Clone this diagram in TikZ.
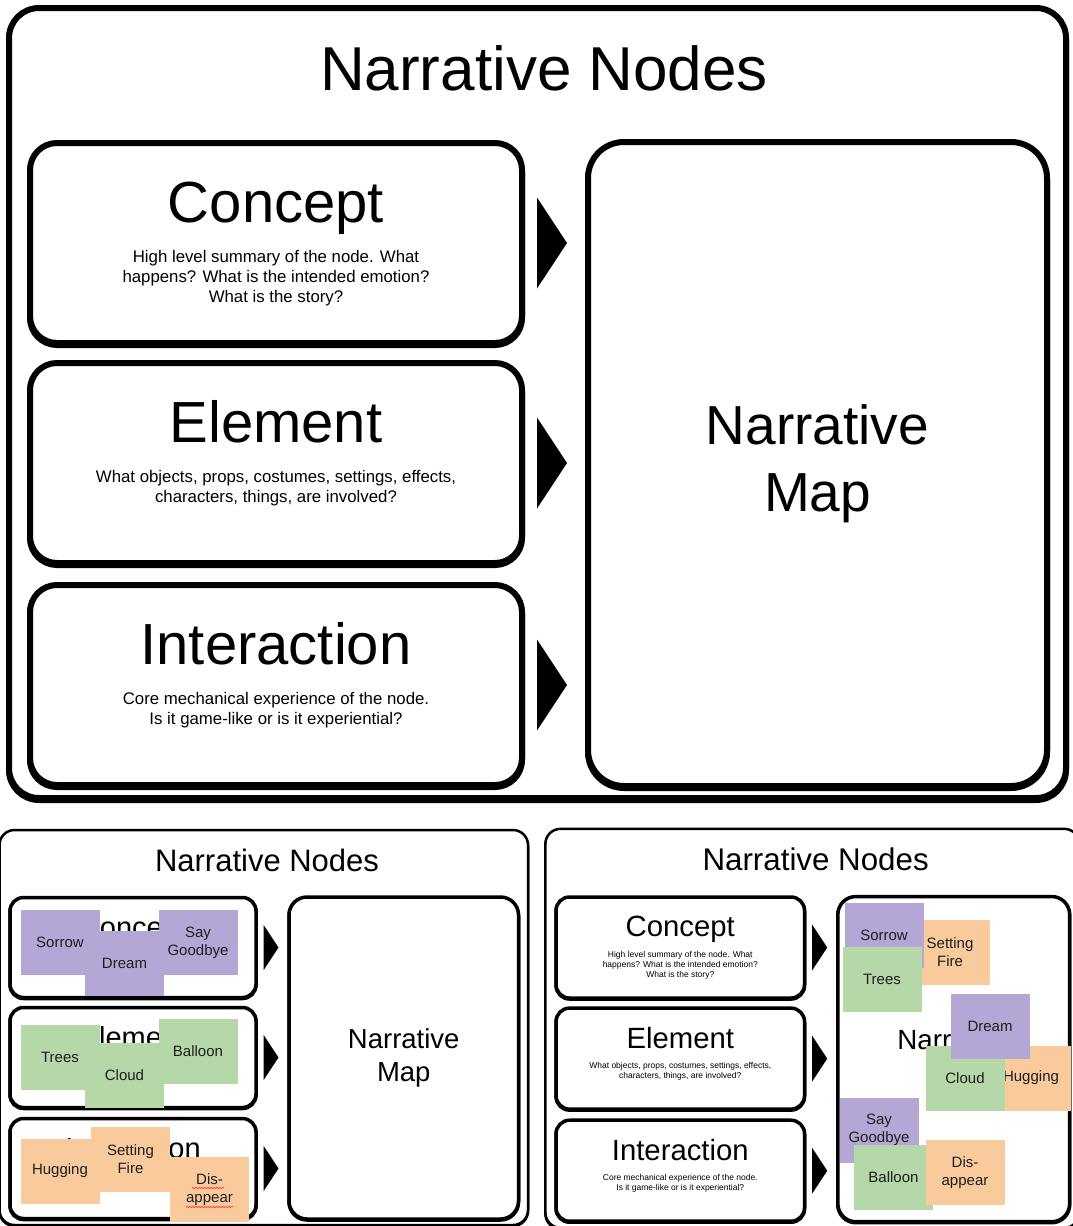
\documentclass[tikz,border=0pt]{standalone}
\usepackage{fontspec}
\setmainfont{Liberation Sans}
\usetikzlibrary{decorations.pathmorphing}

\definecolor{notepurple}{HTML}{B4A7D6}
\definecolor{notegreen}{HTML}{B6D7A8}
\definecolor{noteorange}{HTML}{F9CB9C}
\definecolor{notetext}{HTML}{1E1E1E}

\tikzset{
  frame/.style={draw=black, fill=white, inner sep=0pt, outer sep=0pt},
  shadowed/.style={preaction={draw=black, transform canvas={yshift=-#1}}},
  cardbox/.style={frame, minimum width=492, minimum height=200},
  heading/.style={font=\fontsize{58}{70}\selectfont, anchor=base, inner sep=0pt},
  blurb/.style={font=\fontsize{16.8}{20}\selectfont, align=center, anchor=north, inner sep=0pt},
  titletext/.style={font=\fontsize{62}{74}\selectfont, anchor=base, inner sep=0pt},
  maptext/.style={font=\fontsize{55}{67}\selectfont, align=center, inner sep=0pt},
  note/.style={minimum width=79, minimum height=65, inner sep=0pt, align=center,
    text=notetext, font=\fontsize{15}{18}\selectfont},
  spellmark/.style={draw=red!75!white, line width=0.7pt, decorate,
    decoration={snake, amplitude=0.7pt, segment length=3pt}},
}

% One "Narrative Nodes" panel.
% #1 name prefix, #2/#3 shift, #4 scale, #5 frame width, #6 card width,
% #7 shadow offset, #8 corner factor, #9 show the card descriptions (1/0)
\newcommand\narrpanel[9]{%
  \begin{scope}[shift={(#2,#3)}, scale=#4, transform shape]
    \node[frame, line width=#5, rounded corners=#8*30pt, shadowed=#7,
      minimum width=1057, minimum height=790] (#1frame) at (537.5,403) {};
    \node[titletext] (#1title) at (544,90) {Narrative Nodes};
    % the three cards
    \node[cardbox, line width=#6, rounded corners=#8*27pt, shadowed=#7] (#1concept) at (276,243) {};
    \node[cardbox, line width=#6, rounded corners=#8*27pt, shadowed=#7] (#1element) at (276,463) {};
    \node[cardbox, line width=#6, rounded corners=#8*27pt, shadowed=#7] (#1interaction) at (276,685) {};
    \node[heading] (#1conceptname) at (276,222) {Concept};
    \node[heading] (#1elementname) at (276,442) {Element};
    \node[heading] (#1interactionname) at (276,664) {Interaction};
    \ifnum#9=1
      \node[blurb] (#1conceptnote) at (276,250) {High level summary of the node. What\\happens? What is the intended emotion?\\What is the story?};
      \node[blurb] (#1elementnote) at (276,470) {What objects, props, costumes, settings, effects,\\characters, things, are involved?};
      \node[blurb] (#1interactionnote) at (276,692) {Core mechanical experience of the node.\\Is it game-like or is it experiential?};
    \fi
    % the map
    \node[frame, line width=#6, rounded corners=#8*36pt, shadowed=#7,
      minimum width=459, minimum height=644] (#1map) at (817.5,464) {};
    \node[maptext] (#1maplabel) at (817.5,464) {Narrative\\Map};
    % pointers from the cards to the map
    \fill (537,197.5) -- (567,243) -- (537,288.5) -- cycle;
    \fill (537,417.5) -- (567,463) -- (537,508.5) -- cycle;
    \fill (537,639.5) -- (567,685) -- (537,730.5) -- cycle;
  \end{scope}%
}

\begin{document}
\begin{tikzpicture}[x=1pt, y=-1pt]
  \fill[white] (0,0) rectangle (1073,1226);
  \useasboundingbox (0,0) rectangle (1073,1226);

  \narrpanel{top}{0}{0}{1}{6pt}{6pt}{2pt}{1}{1}
  \narrpanel{left}{-5}{826}{0.5}{2.5pt}{3.5pt}{1pt}{0.5}{0}
  \narrpanel{right}{540.9}{824.8}{0.505}{2.5pt}{3.5pt}{1pt}{0.5}{1}

  % notes sorted onto the cards
  \node[note, fill=notepurple] (lsorrow) at (60,942.5) {Sorrow};
  \node[note, fill=notepurple] (ldream) at (124.5,963) {Dream};
  \node[note, fill=notepurple] (lgoodbye) at (198,942.5) {Say\\Goodbye};
  \node[note, fill=notegreen] (ltrees) at (60,1057) {Trees};
  \node[note, fill=notegreen] (lcloud) at (124.5,1075.5) {Cloud};
  \node[note, fill=notegreen] (lballoon) at (198,1051) {Balloon};
  \node[note, fill=noteorange] (lhugging) at (60,1171) {Hugging};
  \node[note, fill=noteorange] (lfire) at (130.5,1159) {Setting\\Fire};
  \node[note, fill=noteorange] (ldisappear) at (209.5,1189.5) {Dis-\\appear};
  \draw[spellmark] (192,1188) -- (224,1188);
  \draw[spellmark] (186,1207) -- (233,1207);

  % notes laid out on the map
  \node[note, fill=noteorange] (rfire) at (950,952.5) {Setting\\Fire};
  \node[note, fill=notepurple] (rsorrow) at (884,935.5) {Sorrow};
  \node[note, fill=notegreen] (rtrees) at (882,979) {Trees};
  \node[note, fill=noteorange] (rhugging) at (1031,1078) {Hugging};
  \node[note, fill=notegreen] (rcloud) at (965,1078.5) {Cloud};
  \node[note, fill=notepurple] (rdream) at (990,1026.5) {Dream};
  \node[note, fill=notepurple] (rgoodbye) at (879,1130) {Say\\Goodbye};
  \node[note, fill=notegreen] (rballoon) at (893.5,1177) {Balloon};
  \node[note, fill=noteorange] (rdisappear) at (965,1172.5) {Dis-\\appear};
\end{tikzpicture}
\end{document}
